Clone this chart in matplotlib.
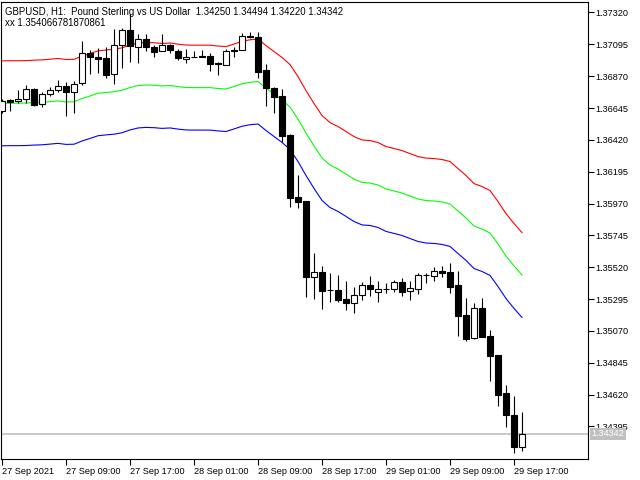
import numpy as np
import matplotlib.pyplot as plt

# --- GBPUSD H1, 27 Sep 01:00 -> 29 Sep 18:00 ---
opens = [1.36624, 1.36702, 1.36695, 1.36709, 1.36779, 1.36673, 1.36744, 1.36772, 1.36801, 1.36758,
         1.36822, 1.37034, 1.37006, 1.36998, 1.36885, 1.37090, 1.37196, 1.37076, 1.37133, 1.37076,
         1.37048, 1.37090, 1.37048, 1.36991, 1.37006, 1.37015, 1.37013, 1.36963, 1.36949, 1.37055,
         1.37055, 1.37154, 1.37147, 1.36914, 1.36786, 1.36730, 1.36454, 1.36016, 1.35988, 1.35451,
         1.35486, 1.35359, 1.35359, 1.35295, 1.35267, 1.35324, 1.35394, 1.35345, 1.35366, 1.35366,
         1.35415, 1.35352, 1.35366, 1.35465, 1.35458, 1.35493, 1.35486, 1.35394, 1.35182, 1.35020,
         1.35232, 1.35034, 1.34900, 1.34631, 1.34476, 1.34250]
highs = [1.36709, 1.36709, 1.36772, 1.36808, 1.36786, 1.36758, 1.36794, 1.36843, 1.36829, 1.36836,
         1.37119, 1.37055, 1.37069, 1.37076, 1.37203, 1.37210, 1.37309, 1.37168, 1.37168, 1.37090,
         1.37168, 1.37097, 1.37062, 1.37062, 1.37048, 1.37055, 1.37034, 1.36970, 1.37062, 1.37076,
         1.37175, 1.37182, 1.37182, 1.36956, 1.36794, 1.36779, 1.36461, 1.36172, 1.35988, 1.35620,
         1.35529, 1.35479, 1.35465, 1.35422, 1.35380, 1.35415, 1.35458, 1.35422, 1.35408, 1.35430,
         1.35444, 1.35422, 1.35479, 1.35479, 1.35521, 1.35529, 1.35550, 1.35493, 1.35302, 1.35267,
         1.35302, 1.35076, 1.34900, 1.34688, 1.34610, 1.34494]
lows = [1.36610, 1.36624, 1.36680, 1.36680, 1.36659, 1.36652, 1.36730, 1.36758, 1.36589, 1.36610,
        1.36808, 1.36885, 1.36892, 1.36857, 1.36815, 1.36928, 1.36970, 1.36963, 1.37048, 1.37006,
        1.37048, 1.37034, 1.36984, 1.36963, 1.37004, 1.37003, 1.36907, 1.36878, 1.36949, 1.37006,
        1.37055, 1.37140, 1.36857, 1.36659, 1.36610, 1.36405, 1.35946, 1.35938, 1.35309, 1.35295,
        1.35225, 1.35274, 1.35274, 1.35218, 1.35196, 1.35288, 1.35316, 1.35274, 1.35338, 1.35345,
        1.35316, 1.35288, 1.35331, 1.35408, 1.35422, 1.35451, 1.35338, 1.35034, 1.34999, 1.35013,
        1.35027, 1.34716, 1.34539, 1.34391, 1.34207, 1.34220]
closes = [1.36695, 1.36688, 1.36709, 1.36779, 1.36666, 1.36744, 1.36772, 1.36801, 1.36758, 1.36815,
          1.37034, 1.37006, 1.36991, 1.36878, 1.37090, 1.37196, 1.37083, 1.37133, 1.37076, 1.37041,
          1.37090, 1.37055, 1.36998, 1.37006, 1.37004, 1.37003, 1.36956, 1.36956, 1.37048, 1.37048,
          1.37154, 1.37147, 1.36900, 1.36786, 1.36723, 1.36447, 1.36009, 1.35981, 1.35451, 1.35486,
          1.35352, 1.35357, 1.35288, 1.35267, 1.35324, 1.35394, 1.35366, 1.35366, 1.35368, 1.35415,
          1.35345, 1.35373, 1.35465, 1.35467, 1.35493, 1.35479, 1.35380, 1.35175, 1.35013, 1.35232,
          1.35027, 1.34893, 1.34617, 1.34476, 1.34248, 1.34342]

# envelope middle line + fixed offset
env_mid = [1.36678, 1.36679, 1.36679, 1.36680, 1.36683, 1.36685, 1.36690, 1.36695, 1.36688, 1.36689,
           1.36712, 1.36730, 1.36749, 1.36755, 1.36760, 1.36770, 1.36790, 1.36804, 1.36808, 1.36806,
           1.36801, 1.36804, 1.36796, 1.36790, 1.36789, 1.36789, 1.36789, 1.36783, 1.36779, 1.36797,
           1.36816, 1.36827, 1.36832, 1.36786, 1.36744, 1.36702, 1.36652, 1.36567, 1.36468, 1.36377,
           1.36292, 1.36242, 1.36214, 1.36179, 1.36143, 1.36119, 1.36115, 1.36101, 1.36073, 1.36059,
           1.36044, 1.36023, 1.36002, 1.35991, 1.35988, 1.35981, 1.35967, 1.35917, 1.35868, 1.35811,
           1.35790, 1.35762, 1.35684, 1.35599, 1.35529, 1.35465]
ENV_OFFSET = 0.00300

xtick_bars = [0, 8, 16, 24, 32, 40, 48, 56, 64]
xtick_labels = ["27 Sep 2021", "27 Sep 09:00", "27 Sep 17:00", "28 Sep 01:00", "28 Sep 09:00",
                "28 Sep 17:00", "29 Sep 01:00", "29 Sep 09:00", "29 Sep 17:00"]
ytick_vals = [1.37320, 1.37095, 1.36870, 1.36645, 1.36420, 1.36195, 1.35970,
              1.35745, 1.35520, 1.35295, 1.35070, 1.34845, 1.34620, 1.34395]

header = "GBPUSD, H1:  Pound Sterling vs US Dollar  1.34250 1.34494 1.34220 1.34342"
sub_header = "xx 1.354066781870861"

FONT = "Liberation Sans"

fig = plt.figure(figsize=(6.4, 4.8), dpi=100)
ax = fig.add_axes([1 / 640, 21 / 480, 587 / 640, 457 / 480])

x = np.arange(len(opens))
o = np.array(opens)
h = np.array(highs)
l = np.array(lows)
c = np.array(closes)
mid = np.array(env_mid)

# envelope lines
ax.plot(x, mid + ENV_OFFSET, color="#FF0000", lw=0.8, zorder=2)
ax.plot(x, mid, color="#00FF00", lw=0.8, zorder=2)
ax.plot(x, mid - ENV_OFFSET, color="#0000FF", lw=0.8, zorder=2)

# current price line
ax.axhline(closes[-1], color="#C0C0C0", lw=1.2, zorder=1)

# candles
ax.vlines(x, l, h, color="black", lw=0.8, zorder=3)
up = c >= o
bottoms = np.minimum(o, c)
heights = np.abs(c - o)
ax.bar(x[up], heights[up], bottom=bottoms[up], width=0.64, facecolor="white",
       edgecolor="black", linewidth=0.8, zorder=4)
ax.bar(x[~up], heights[~up], bottom=bottoms[~up], width=0.64, facecolor="black",
       edgecolor="black", linewidth=0.8, zorder=4)

ax.set_xlim(-0.125, 73.25)
ax.set_ylim(1.34165, 1.37394)

ax.yaxis.tick_right()
ax.set_yticks(ytick_vals)
ax.set_yticklabels([f"{v:.5f}" for v in ytick_vals], fontsize=6.6, family=FONT)
ax.set_xticks(xtick_bars)
ax.set_xticklabels(xtick_labels, fontsize=6.6, family=FONT, ha="left")
ax.tick_params(axis="y", direction="out", length=4, width=0.8, pad=1)
ax.tick_params(axis="x", direction="out", length=4, width=0.8, pad=2)

for sp in ax.spines.values():
    sp.set_linewidth(0.8)
    sp.set_color("black")

# price label on the right scale
ax.text(1.006, closes[-1], f"{closes[-1]:.5f}", transform=ax.get_yaxis_transform(),
        fontsize=6.6, family=FONT, color="white", va="center", ha="left", zorder=6,
        clip_on=False, bbox=dict(boxstyle="square,pad=0.2", facecolor="#C0C0C0", edgecolor="none"))

ax.text(0.006, 0.978, header, transform=ax.transAxes, fontsize=6.9, family=FONT,
        va="center", ha="left", zorder=7)
ax.text(0.006, 0.954, sub_header, transform=ax.transAxes, fontsize=6.9, family=FONT,
        va="center", ha="left", zorder=7)

fig.savefig("out.png", dpi=100)
